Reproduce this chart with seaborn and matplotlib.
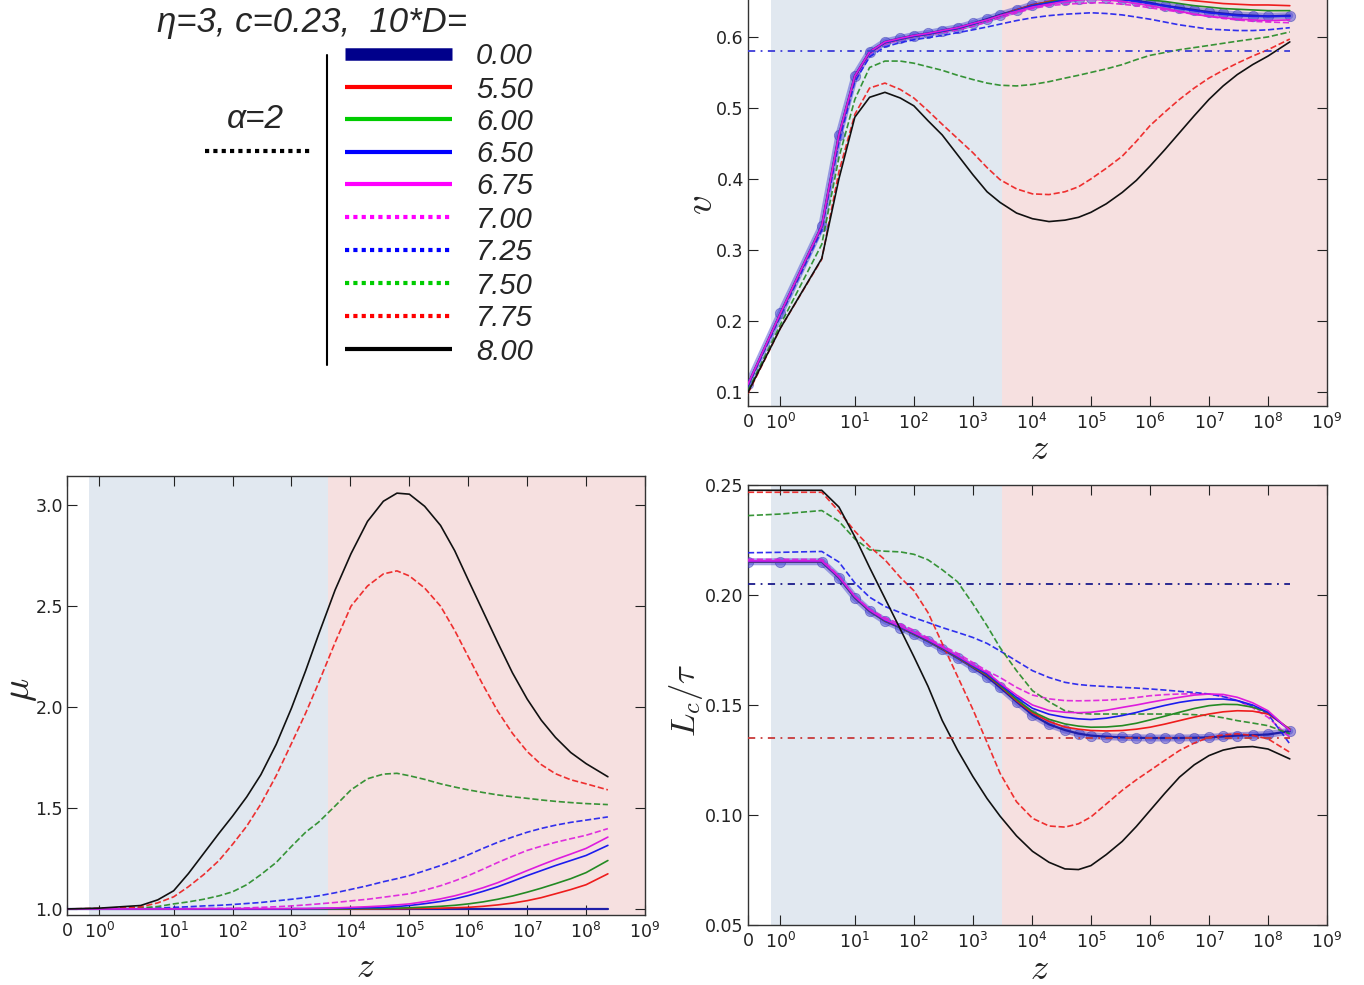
import matplotlib
matplotlib.use("Agg")
import matplotlib.pyplot as plt
from matplotlib.lines import Line2D
import numpy as np
import pandas as pd
import seaborn as sns

# ---------------- data (x = position on the custom log-z axis, in decades) ----------------
U = [0, 0.55, 1.25, 1.54, 1.81, 2.06, 2.32, 2.58, 2.81, 3.05, 3.29, 3.55, 3.81, 4.05,
     4.27, 4.55, 4.82, 5.1, 5.37, 5.6, 5.81, 6.07, 6.34, 6.58, 6.81, 7.06, 7.31, 7.56,
     7.81, 8.05, 8.29, 8.55, 8.81, 9.18]

TICK_POS = [0, 0.55, 1.81, 2.81, 3.81, 4.81, 5.81, 6.81, 7.81, 8.81, 9.81]
TICK_LABELS = ['0', r'$10^{0}$', r'$10^{1}$', r'$10^{2}$', r'$10^{3}$', r'$10^{4}$',
               r'$10^{5}$', r'$10^{6}$', r'$10^{7}$', r'$10^{8}$', r'$10^{9}$']

SERIES = ['0.00', '5.50', '6.00', '6.50', '6.75', '7.00', '7.25', '7.50', '7.75', '8.00']

V = {
    '0.00': [0.111, 0.211, 0.334, 0.462, 0.545, 0.579, 0.593, 0.598, 0.602, 0.605, 0.609, 0.613, 0.619, 0.625,
             0.631, 0.638, 0.645, 0.649, 0.652, 0.654,
             0.655, 0.655, 0.653, 0.651, 0.648, 0.644, 0.641, 0.638, 0.635, 0.633, 0.631, 0.630, 0.629, 0.630],
    '5.50': [0.110, 0.210, 0.333, 0.461, 0.544, 0.578, 0.592, 0.597, 0.601, 0.604, 0.608, 0.612, 0.618, 0.624,
             0.630, 0.638, 0.645, 0.650, 0.654, 0.657,
             0.658, 0.659, 0.659, 0.658, 0.657, 0.655, 0.653, 0.651, 0.649, 0.647, 0.646, 0.645, 0.645, 0.644],
    '6.00': [0.110, 0.210, 0.333, 0.461, 0.544, 0.578, 0.592, 0.597, 0.601, 0.604, 0.608, 0.612, 0.618, 0.624,
             0.630, 0.637, 0.644, 0.649, 0.653, 0.656,
             0.657, 0.657, 0.656, 0.654, 0.652, 0.650, 0.647, 0.644, 0.642, 0.640, 0.639, 0.638, 0.637, 0.637],
    '6.50': [0.110, 0.210, 0.333, 0.461, 0.544, 0.578, 0.592, 0.597, 0.601, 0.604, 0.608, 0.612, 0.618, 0.624,
             0.630, 0.637, 0.644, 0.648, 0.652, 0.654,
             0.655, 0.654, 0.653, 0.650, 0.647, 0.644, 0.640, 0.637, 0.634, 0.632, 0.630, 0.629, 0.629, 0.629],
    '6.75': [0.111, 0.211, 0.334, 0.462, 0.545, 0.579, 0.593, 0.598, 0.602, 0.605, 0.609, 0.613, 0.619, 0.624,
             0.630, 0.636, 0.642, 0.646, 0.650, 0.652,
             0.653, 0.652, 0.650, 0.647, 0.644, 0.640, 0.636, 0.632, 0.629, 0.627, 0.625, 0.624, 0.623, 0.624],
    '7.00': [0.110, 0.210, 0.332, 0.458, 0.541, 0.576, 0.590, 0.596, 0.600, 0.603, 0.606, 0.610, 0.615, 0.621,
             0.627, 0.634, 0.640, 0.644, 0.646, 0.647,
             0.648, 0.648, 0.646, 0.644, 0.641, 0.638, 0.635, 0.632, 0.629, 0.626, 0.624, 0.622, 0.621, 0.620],
    '7.25': [0.108, 0.207, 0.328, 0.452, 0.537, 0.572, 0.586, 0.592, 0.596, 0.599, 0.602, 0.606, 0.610, 0.614,
             0.618, 0.623, 0.627, 0.630, 0.632, 0.633,
             0.634, 0.633, 0.631, 0.628, 0.625, 0.621, 0.617, 0.614, 0.611, 0.610, 0.609, 0.609, 0.610, 0.613],
    '7.50': [0.102, 0.195, 0.308, 0.430, 0.512, 0.557, 0.566, 0.566, 0.563, 0.558, 0.553, 0.546, 0.540, 0.535,
             0.532, 0.531, 0.533, 0.537, 0.542, 0.546,
             0.550, 0.555, 0.561, 0.568, 0.574, 0.578, 0.582, 0.585, 0.588, 0.591, 0.594, 0.597, 0.600, 0.607],
    '7.75': [0.098, 0.190, 0.287, 0.410, 0.491, 0.528, 0.535, 0.526, 0.514, 0.496, 0.477, 0.457, 0.437, 0.416,
             0.399, 0.386, 0.379, 0.378, 0.382, 0.389,
             0.400, 0.415, 0.432, 0.453, 0.475, 0.494, 0.512, 0.528, 0.542, 0.553, 0.563, 0.573, 0.582, 0.597],
    '8.00': [0.0995, 0.190, 0.288, 0.400, 0.487, 0.515, 0.522, 0.514, 0.503, 0.482, 0.462, 0.434, 0.406, 0.382,
             0.367, 0.352, 0.344, 0.340, 0.342, 0.346,
             0.353, 0.365, 0.381, 0.398, 0.418, 0.441, 0.465, 0.489, 0.512, 0.531, 0.547, 0.561, 0.573, 0.593],
}

MU = {
    '0.00': [1.000, 1.000, 1.000, 1.000, 1.000, 1.000, 1.000, 1.000, 1.000, 1.000, 1.000, 1.000, 1.000, 1.000,
             1.000, 1.000, 1.000, 1.000, 1.000, 1.000,
             1.000, 1.000, 1.000, 1.000, 1.000, 1.000, 1.000, 1.000, 1.000, 1.000, 1.000, 1.000, 1.000, 1.000],
    '5.50': [1.000, 1.000, 1.000, 1.000, 1.000, 1.000, 1.000, 1.000, 1.000, 1.000, 1.000, 1.000, 1.000, 1.000,
             1.000, 1.000, 1.000, 1.000, 1.001, 1.001,
             1.002, 1.003, 1.004, 1.006, 1.008, 1.013, 1.020, 1.029, 1.041, 1.056, 1.075, 1.096, 1.120, 1.174],
    '6.00': [1.000, 1.000, 1.000, 1.000, 1.000, 1.000, 1.000, 1.000, 1.000, 1.000, 1.000, 1.000, 1.000, 1.000,
             1.000, 1.000, 1.001, 1.002, 1.003, 1.004,
             1.006, 1.009, 1.013, 1.018, 1.025, 1.035, 1.048, 1.064, 1.083, 1.103, 1.125, 1.150, 1.180, 1.240],
    '6.50': [1.000, 1.000, 1.000, 1.000, 1.000, 1.000, 1.000, 1.000, 1.000, 1.000, 1.000, 1.000, 1.001, 1.001,
             1.002, 1.003, 1.004, 1.006, 1.008, 1.012,
             1.017, 1.026, 1.037, 1.050, 1.066, 1.087, 1.110, 1.137, 1.165, 1.190, 1.215, 1.240, 1.265, 1.315],
    '6.75': [1.000, 1.000, 1.000, 1.000, 1.000, 1.000, 1.001, 1.001, 1.001, 1.001, 1.001, 1.001, 1.002, 1.002,
             1.003, 1.005, 1.008, 1.011, 1.015, 1.020,
             1.025, 1.036, 1.050, 1.065, 1.083, 1.105, 1.130, 1.160, 1.190, 1.218, 1.245, 1.272, 1.300, 1.356],
    '7.00': [1.000, 1.000, 1.000, 1.001, 1.001, 1.002, 1.002, 1.003, 1.003, 1.005, 1.008, 1.011, 1.015, 1.020,
             1.025, 1.032, 1.040, 1.048, 1.058, 1.067,
             1.075, 1.093, 1.115, 1.139, 1.165, 1.197, 1.230, 1.261, 1.290, 1.311, 1.330, 1.348, 1.365, 1.398],
    '7.25': [1.000, 1.000, 1.002, 1.004, 1.008, 1.011, 1.015, 1.018, 1.022, 1.027, 1.032, 1.040, 1.048, 1.056,
             1.065, 1.080, 1.097, 1.115, 1.135, 1.150,
             1.165, 1.189, 1.215, 1.241, 1.268, 1.300, 1.330, 1.356, 1.380, 1.399, 1.415, 1.429, 1.440, 1.456],
    '7.50': [1.000, 1.001, 1.005, 1.012, 1.025, 1.035, 1.048, 1.065, 1.085, 1.120, 1.170, 1.230, 1.310, 1.380,
             1.430, 1.510, 1.590, 1.645, 1.668, 1.672,
             1.660, 1.642, 1.620, 1.604, 1.590, 1.577, 1.565, 1.556, 1.548, 1.540, 1.533, 1.527, 1.522, 1.517],
    '7.75': [1.000, 1.003, 1.010, 1.030, 1.060, 1.110, 1.170, 1.240, 1.320, 1.410, 1.520, 1.660, 1.820, 1.970,
             2.120, 2.320, 2.500, 2.600, 2.660, 2.675,
             2.650, 2.590, 2.500, 2.380, 2.250, 2.110, 1.980, 1.870, 1.780, 1.715, 1.670, 1.640, 1.620, 1.590],
    '8.00': [1.000, 1.004, 1.017, 1.045, 1.090, 1.175, 1.275, 1.375, 1.460, 1.555, 1.665, 1.815, 1.995, 2.180,
             2.360, 2.580, 2.760, 2.920, 3.020, 3.060,
             3.055, 2.995, 2.900, 2.775, 2.630, 2.475, 2.320, 2.170, 2.040, 1.935, 1.850, 1.775, 1.720, 1.655],
}

LC = {
    '0.00': [0.2151, 0.2151, 0.2151, 0.2079, 0.1988, 0.1927, 0.1882, 0.1852, 0.1822, 0.1790, 0.1754, 0.1714, 0.1671, 0.1628,
             0.1580, 0.1515, 0.1455, 0.1412, 0.1386, 0.1370,
             0.1361, 0.1356, 0.1353, 0.1351, 0.1350, 0.1350, 0.1350, 0.1351, 0.1353, 0.1357, 0.1361, 0.1363, 0.1366, 0.1381],
    '5.50': [0.2151, 0.2151, 0.2151, 0.2079, 0.1988, 0.1927, 0.1883, 0.1853, 0.1823, 0.1792, 0.1756, 0.1716, 0.1673, 0.1635,
             0.1587, 0.1520, 0.1464, 0.1425, 0.1400, 0.1390,
             0.1384, 0.1382, 0.1384, 0.1390, 0.1399, 0.1413, 0.1429, 0.1445, 0.1459, 0.1469, 0.1474, 0.1472, 0.1459, 0.1391],
    '6.00': [0.2152, 0.2152, 0.2152, 0.2080, 0.1989, 0.1928, 0.1884, 0.1854, 0.1824, 0.1793, 0.1758, 0.1718, 0.1675, 0.1638,
             0.1590, 0.1525, 0.1470, 0.1435, 0.1414, 0.1404,
             0.1399, 0.1400, 0.1406, 0.1417, 0.1432, 0.1449, 0.1467, 0.1484, 0.1497, 0.1503, 0.1502, 0.1490, 0.1467, 0.1387],
    '6.50': [0.2152, 0.2152, 0.2152, 0.2080, 0.1990, 0.1929, 0.1885, 0.1855, 0.1826, 0.1795, 0.1760, 0.1720, 0.1678, 0.1642,
             0.1595, 0.1535, 0.1485, 0.1458, 0.1444, 0.1437,
             0.1434, 0.1440, 0.1452, 0.1466, 0.1482, 0.1498, 0.1512, 0.1522, 0.1527, 0.1527, 0.1520, 0.1500, 0.1467, 0.1384],
    '6.75': [0.2155, 0.2155, 0.2155, 0.2083, 0.1993, 0.1932, 0.1888, 0.1858, 0.1829, 0.1798, 0.1763, 0.1724, 0.1682, 0.1648,
             0.1600, 0.1545, 0.1500, 0.1475, 0.1467, 0.1465,
             0.1467, 0.1476, 0.1489, 0.1500, 0.1512, 0.1524, 0.1535, 0.1545, 0.1550, 0.1548, 0.1535, 0.1510, 0.1474, 0.1384],
    '7.00': [0.2162, 0.2162, 0.2162, 0.2086, 0.1995, 0.1935, 0.1897, 0.1868, 0.1840, 0.1805, 0.1770, 0.1735, 0.1693, 0.1655,
             0.1625, 0.1580, 0.1545, 0.1528, 0.1520, 0.1519,
             0.1520, 0.1522, 0.1527, 0.1534, 0.1542, 0.1547, 0.1550, 0.1551, 0.1550, 0.1540, 0.1520, 0.1488, 0.1444, 0.1353],
    '7.25': [0.2192, 0.2194, 0.2198, 0.2150, 0.2055, 0.1990, 0.1948, 0.1920, 0.1897, 0.1875, 0.1852, 0.1830, 0.1807, 0.1780,
             0.1746, 0.1700, 0.1656, 0.1625, 0.1603, 0.1593,
             0.1588, 0.1584, 0.1580, 0.1577, 0.1573, 0.1568, 0.1562, 0.1557, 0.1550, 0.1538, 0.1520, 0.1495, 0.1459, 0.1323],
    '7.50': [0.2361, 0.2368, 0.2384, 0.2335, 0.2255, 0.2205, 0.2199, 0.2196, 0.2185, 0.2160, 0.2115, 0.2060, 0.1960, 0.1860,
             0.1761, 0.1656, 0.1565, 0.1515, 0.1474, 0.1463,
             0.1459, 0.1459, 0.1459, 0.1459, 0.1459, 0.1459, 0.1459, 0.1456, 0.1452, 0.1442, 0.1429, 0.1418, 0.1406, 0.1369],
    '7.75': [0.2467, 0.2467, 0.2467, 0.2380, 0.2290, 0.2220, 0.2160, 0.2080, 0.2020, 0.1920, 0.1780, 0.1630, 0.1480, 0.1330,
             0.1190, 0.1060, 0.0985, 0.0950, 0.0945, 0.0960,
             0.0991, 0.1050, 0.1112, 0.1160, 0.1202, 0.1248, 0.1293, 0.1327, 0.1353, 0.1364, 0.1369, 0.1362, 0.1346, 0.1285],
    '8.00': [0.2476, 0.2476, 0.2476, 0.2400, 0.2265, 0.2125, 0.1985, 0.1845, 0.1720, 0.1585, 0.1430, 0.1295, 0.1175, 0.1075,
             0.0995, 0.0905, 0.0835, 0.0785, 0.0755, 0.0752,
             0.0770, 0.0820, 0.0880, 0.0948, 0.1020, 0.1098, 0.1172, 0.1228, 0.1270, 0.1295, 0.1308, 0.1311, 0.1300, 0.1255],
}

# reference (dash-dot) levels and shaded regions
V_REF = 0.58
LC_REF_HI = 0.205
LC_REF_LO = 0.135
REF_X = [0, 9.18]
SPAN_RIGHT = [(0.39, 4.30), (4.30, 9.81)]
SPAN_LEFT = [(0.37, 4.43), (4.43, 9.81)]

# ---------------- styles ----------------
W, H = 1364, 985
LINE_STYLE = {
    '0.00': ('#1f1fa8', '-'),
    '5.50': ('#ee1c1c', '-'),
    '6.00': ('#238a23', '-'),
    '6.50': ('#1c1cee', '-'),
    '6.75': ('#dd1cdd', '-'),
    '7.00': ('#dd1cdd', '--'),
    '7.25': ('#1c1cee', '--'),
    '7.50': ('#238a23', '--'),
    '7.75': ('#ee1c1c', '--'),
    '8.00': ('#111111', '-'),
}
LEG_STYLE = {
    '0.00': ('#00008b', '-', 9),
    '5.50': ('#ff0000', '-', 3),
    '6.00': ('#00cc00', '-', 3),
    '6.50': ('#0000ff', '-', 3),
    '6.75': ('#ff00ff', '-', 3),
    '7.00': ('#ff00ff', ':', 3),
    '7.25': ('#0000ff', ':', 3),
    '7.50': ('#00cc00', ':', 3),
    '7.75': ('#ff0000', ':', 3),
    '8.00': ('#000000', '-', 3),
}
BLUE_BG = '#e1e8f0'
PINK_BG = '#f6e0e0'

sns.set_style('ticks')
plt.rcParams['font.family'] = ['DejaVu Sans']
plt.rcParams['axes.edgecolor'] = '#333333'
plt.rcParams['axes.linewidth'] = 1.0


def fx(px):
    return px / W


def fy(py):
    return 1 - py / H


fig = plt.figure(figsize=(W / 100, H / 100), dpi=100)
ax_v = fig.add_axes([fx(748), fy(406), (1327 - 748) / W, 406 / H])
ax_mu = fig.add_axes([fx(67), fy(915), (645 - 67) / W, (915 - 476) / H])
ax_lc = fig.add_axes([fx(748), fy(925), (1327 - 748) / W, (925 - 485) / H])


def long_df(table):
    rows = []
    for s in SERIES:
        for u, val in zip(U, table[s]):
            rows.append({'u': u, 'val': val, 'series': s})
    return pd.DataFrame(rows)


def draw_panel(ax, table, spans, markers):
    ax.axvspan(*spans[0], color=BLUE_BG, lw=0, zorder=0)
    ax.axvspan(*spans[1], color=PINK_BG, lw=0, zorder=0)
    df = long_df(table)
    order = ['0.00', '7.00', '7.25', '7.50', '7.75', '5.50', '6.00', '6.50', '6.75', '8.00']
    for s in order:
        d = df[df['series'] == s]
        col, ls = LINE_STYLE[s]
        if s == '0.00':
            if markers:
                sns.lineplot(data=d, x='u', y='val', ax=ax, color='#3a3ad0', lw=5, alpha=0.45,
                             estimator=None, sort=False, zorder=2)
                sns.scatterplot(data=d, x='u', y='val', ax=ax, color='#4848d8', s=55, alpha=0.5,
                                edgecolor='#3030b0', linewidth=0.6, zorder=3)
            sns.lineplot(data=d, x='u', y='val', ax=ax, color=col, lw=1.6,
                         estimator=None, sort=False, zorder=3)
        else:
            sns.lineplot(data=d, x='u', y='val', ax=ax, color=col, lw=1.2,
                         linestyle=ls, alpha=0.9 if ls == '--' else 1.0,
                         estimator=None, sort=False, zorder=4)
    ax.set_xlim(0, 9.81)
    ax.set_xticks(TICK_POS)
    ax.set_xticklabels(TICK_LABELS)
    ax.tick_params(direction='in', top=True, right=True, length=7, width=0.8,
                   labelsize=12.5, colors='#222222')
    ax.tick_params(axis='x', pad=5)
    ax.tick_params(axis='y', pad=3)
    ax.set_xlabel('$z$', fontsize=26, math_fontfamily='cm')
    ax.xaxis.label.set_va('center')


# top-right: v
draw_panel(ax_v, V, SPAN_RIGHT, True)
sns.lineplot(x=REF_X, y=[V_REF, V_REF], ax=ax_v, color='#3c3cd8', lw=1.3,
             linestyle=(0, (4, 3, 1, 3)), zorder=5)
ax_v.set_ylim(0.0803, 0.652)
ax_v.set_yticks([0.1, 0.2, 0.3, 0.4, 0.5, 0.6])
ax_v.set_yticklabels(['0.1', '0.2', '0.3', '0.4', '0.5', '0.6'])
ax_v.spines['top'].set_visible(False)
ax_v.tick_params(top=False)
ax_v.set_ylabel('$v$', fontsize=28, math_fontfamily='cm')
ax_v.xaxis.set_label_coords(0.504, (406 - 449) / 406)
ax_v.yaxis.set_label_coords((701 - 748) / 579, (406 - 205) / 406)

# bottom-left: mu
draw_panel(ax_mu, MU, SPAN_LEFT, False)
ax_mu.set_ylim(0.97, 3.145)
ax_mu.set_yticks([1.0, 1.5, 2.0, 2.5, 3.0])
ax_mu.set_yticklabels(['1.0', '1.5', '2.0', '2.5', '3.0'])
ax_mu.set_ylabel(r'$\mu$', fontsize=28, math_fontfamily='cm')
ax_mu.xaxis.set_label_coords((365 - 67) / 578, (915 - 967) / 439)
ax_mu.yaxis.set_label_coords((20 - 67) / 578, (915 - 690) / 439)

# bottom-right: Lc / tau
draw_panel(ax_lc, LC, SPAN_RIGHT, True)
sns.lineplot(x=REF_X, y=[LC_REF_HI, LC_REF_HI], ax=ax_lc, color='#1a1a8a', lw=1.3,
             linestyle=(0, (4, 3, 1, 3)), zorder=5)
sns.lineplot(x=REF_X, y=[LC_REF_LO, LC_REF_LO], ax=ax_lc, color='#c83a3a', lw=1.3,
             linestyle=(0, (4, 3, 1, 3)), zorder=5)
ax_lc.set_ylim(0.05, 0.25)
ax_lc.set_yticks([0.05, 0.10, 0.15, 0.20, 0.25])
ax_lc.set_yticklabels(['0.05', '0.10', '0.15', '0.20', '0.25'])
ax_lc.set_ylabel(r'$L_c/\tau$', fontsize=25, math_fontfamily='cm')
ax_lc.xaxis.set_label_coords(0.504, (925 - 969) / 440)
ax_lc.yaxis.set_label_coords((686 - 748) / 579, (925 - 700) / 440)

for ax in (ax_v, ax_mu, ax_lc):
    ax.yaxis.label.set_va('center')
    for sp in ax.spines.values():
        sp.set_linewidth(1.0)

# ---------------- legend block (top-left) ----------------
LEG_FONT = ['Liberation Sans', 'DejaVu Sans']
fig.text(fx(157), fy(32), r'η=3, c=0.23,  10*D=', fontsize=25, style='italic',
         family=LEG_FONT, ha='left', va='baseline')
fig.text(fx(255), fy(128), 'α=2', fontsize=24, style='italic', family=LEG_FONT,
         ha='center', va='baseline')
fig.add_artist(Line2D([fx(205), fx(311)], [fy(151), fy(151)], transform=fig.transFigure,
                      color='black', lw=3, linestyle=(0, (1, 1))))
fig.add_artist(Line2D([fx(327), fx(327)], [fy(55), fy(365)], transform=fig.transFigure,
                      color='black', lw=1.5))
LEG_Y = [54, 87, 119, 152, 184, 217, 250, 283, 316, 349]
for s, y in zip(SERIES, LEG_Y):
    col, ls, lw = LEG_STYLE[s]
    dash = (0, (1, 1)) if ls == ':' else '-'
    fig.add_artist(Line2D([fx(345), fx(452)], [fy(y), fy(y)], transform=fig.transFigure,
                          color=col, lw=lw, linestyle=dash, solid_capstyle='butt'))
    fig.text(fx(476), fy(y + 10.5), s, fontsize=21, style='italic', family=LEG_FONT,
             ha='left', va='baseline')

fig.savefig('out.png', dpi=100)
